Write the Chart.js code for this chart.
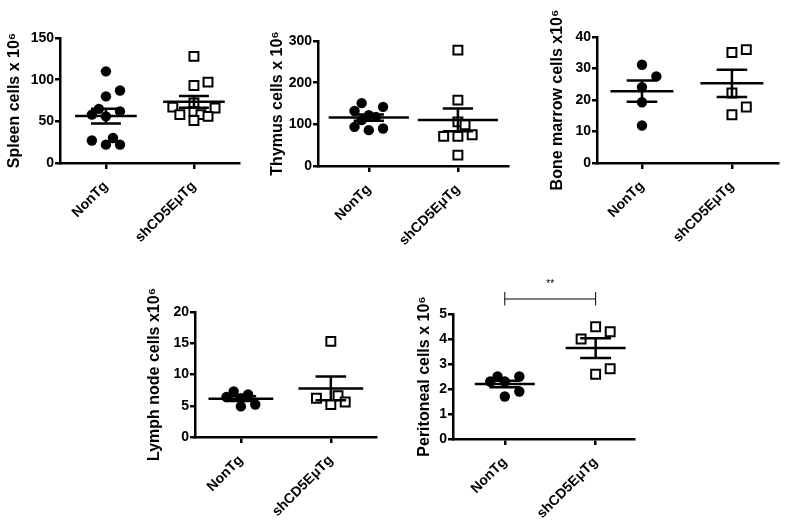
<!DOCTYPE html>
<html>
<head>
<meta charset="utf-8">
<script src="https://cdn.jsdelivr.net/npm/chart.js@4.4.1/dist/chart.umd.min.js"></script>
<style>
  html, body { margin: 0; padding: 0; background: #fff; }
  body { width: 791px; height: 525px; position: relative; overflow: hidden; }
  .panel { position: absolute; }
</style>
</head>
<body>
<div class="panel" id="p0"><canvas id="c0"></canvas></div>
<div class="panel" id="p1"><canvas id="c1"></canvas></div>
<div class="panel" id="p2"><canvas id="c2"></canvas></div>
<div class="panel" id="p3"><canvas id="c3"></canvas></div>
<div class="panel" id="p4"><canvas id="c4"></canvas></div>
<script>
// groups on the x axis
const groups = ['NonTg', 'shCD5E\u03bcTg'];

// y axis titles
const titles = ['Spleen cells x 10\u2076', 'Thymus cells x 10\u2076', 'Bone marrow cells x10\u2076',
  'Lymph node cells x10\u2076', 'Peritoneal cells x 10\u2076'];

// y axis max / tick step
const yMax = [150, 300, 40, 20, 5];
const yStep = [50, 100, 10, 5, 1];

// values (cells x 10^6)
const spleenNonTg = [110, 87, 80, 65, 62, 58, 56, 30, 27, 22, 22];
const spleenTg = [128, 97, 93, 72, 67, 66, 62, 58, 58, 56, 51];
const thymusNonTg = [151, 142, 132, 122, 118, 110, 94, 90, 86];
const thymusTg = [278, 158, 106, 99, 75, 71, 71, 26];
const boneNonTg = [31.2, 27.5, 24.1, 19.3, 11.9];
const boneTg = [36, 35.1, 22.2, 17.8, 15.3];
const lymphNonTg = [7.3, 6.8, 6.4, 6.2, 5.2, 4.9];
const lymphTg = [15.3, 6.6, 6.2, 5.6, 5.2];
const peritNonTg = [2.5, 2.5, 2.3, 2.3, 1.9, 1.7];
const peritTg = [4.49, 4.29, 4.0, 2.81, 2.59];

// scatter column of each point (jitter, in symbol widths)
const spleenNonTgCol = [0, 2, 0, -1, 2, -2, 0, 1, -2, 0, 2];
const spleenTgCol = [0, 2, 0, 0, -3, 3, 0, -2, 1, 2, 0];
const thymusNonTgCol = [-1, 2, -2, 0, 1, -1, -2, 2, 0];
const thymusTgCol = [0, 0, 0, 1, 2, -2, 0, 0];
const boneNonTgCol = [0, 2, 0, 0, 0];
const boneTgCol = [2, 0, 0, 2, 0];
const lymphNonTgCol = [-1, 1, -2, 0, 2, 0];
const lymphTgCol = [0, 1, -2, 2, 0];
const peritNonTgCol = [-1, 2, -2, 0, 2, 0];
const peritTgCol = [0, 2, -2, 2, 0];

const panelData = [
  [spleenNonTg, spleenTg, spleenNonTgCol, spleenTgCol],
  [thymusNonTg, thymusTg, thymusNonTgCol, thymusTgCol],
  [boneNonTg, boneTg, boneNonTgCol, boneTgCol],
  [lymphNonTg, lymphTg, lymphNonTgCol, lymphTgCol],
  [peritNonTg, peritTg, peritNonTgCol, peritTgCol]
];

// layout: axis x, plot top, plot bottom, plot right, y-axis box width, x range
const boxes = [
  { ax: 60, top: 38, bottom: 163, right: 248, yw: 57, xmin: 0.478, xmax: 2.52, half: 0.35 },
  { ax: 318, top: 41, bottom: 166, right: 517, yw: 52, xmin: 0.43, xmax: 2.57, half: 0.45 },
  { ax: 597, top: 37, bottom: 163, right: 787, yw: 51, xmin: 0.5, xmax: 2.52, half: 0.35 },
  { ax: 195, top: 312, bottom: 437, right: 385, yw: 52, xmin: 0.49, xmax: 2.51, half: 0.36 },
  { ax: 453, top: 314, bottom: 439, right: 643, yw: 40, xmin: 0.43, xmax: 2.43, half: 0.33 }
];

const FONT = '"Liberation Sans", Arial, sans-serif';
const COL_W = 0.08;
const PAD_TOP = 36;

function mean(a) { return a.reduce((s, v) => s + v, 0) / a.length; }
function sem(a) {
  const m = mean(a);
  const sd = Math.sqrt(a.reduce((s, v) => s + (v - m) * (v - m), 0) / (a.length - 1));
  return sd / Math.sqrt(a.length);
}

function seg(pts, w, clip) {
  return {
    type: 'line', data: pts.map(p => ({ x: p[0], y: p[1] })),
    borderColor: '#000', borderWidth: w || 2.5, pointRadius: 0, showLine: true,
    fill: false, clip: clip === false ? false : undefined
  };
}

function statSets(cx, vals, half) {
  const m = mean(vals), s = sem(vals), w = 0.17;
  return [
    seg([[cx - half, m], [cx + half, m]]),
    seg([[cx - w, m + s], [cx + w, m + s]]),
    seg([[cx - w, m - s], [cx + w, m - s]]),
    seg([[cx, m - s], [cx, m + s]])
  ];
}

// ** label over the bracket of the last panel
const starsPlugin = {
  id: 'stars',
  afterDatasetsDraw(chart) {
    if (chart.canvas.id !== 'c4') return;
    const { ctx, scales } = chart;
    ctx.save();
    ctx.fillStyle = '#000';
    ctx.font = '10px ' + FONT;
    ctx.textAlign = 'center';
    ctx.textBaseline = 'middle';
    ctx.fillText('**', scales.x.getPixelForValue(1.5), scales.y.getPixelForValue(6.2));
    ctx.restore();
  }
};

boxes.forEach((b, i) => {
  const div = document.getElementById('p' + i);
  const left = b.ax - b.yw, top = b.top - PAD_TOP;
  div.style.left = left + 'px';
  div.style.top = top + 'px';
  div.style.width = (b.right - left) + 'px';
  div.style.height = (b.bottom - b.top + PAD_TOP + 90) + 'px';

  const [a, c, ca, cc] = panelData[i];
  const datasets = [
    ...statSets(1, a, b.half),
    ...statSets(2, c, b.half),
    {
      type: 'scatter', data: a.map((v, k) => ({ x: 1 + ca[k] * COL_W, y: v })),
      pointStyle: 'circle', pointRadius: 5.2, backgroundColor: '#000', borderColor: '#000',
      borderWidth: 0, clip: false
    },
    {
      type: 'scatter', data: c.map((v, k) => ({ x: 2 + cc[k] * COL_W, y: v })),
      pointStyle: 'rect', pointRadius: 6.3, backgroundColor: '#fff', borderColor: '#000',
      borderWidth: 2, clip: false
    }
  ];
  if (i === 4) {
    datasets.unshift(
      seg([[1, 5.6], [2, 5.6]], 1, false),
      seg([[1, 5.34], [1, 5.88]], 1, false),
      seg([[2, 5.34], [2, 5.88]], 1, false)
    );
  }

  new Chart(document.getElementById('c' + i), {
    type: 'scatter',
    data: { datasets },
    plugins: [starsPlugin],
    options: {
      responsive: true,
      maintainAspectRatio: false,
      animation: false,
      layout: { padding: { top: PAD_TOP, left: 0, right: 0, bottom: 0 } },
      plugins: { legend: { display: false }, tooltip: { enabled: false } },
      scales: {
        x: {
          type: 'linear', min: b.xmin, max: b.xmax,
          afterBuildTicks: s => { s.ticks = [{ value: 1 }, { value: 2 }]; },
          afterFit: s => { s.height = 90; s.paddingLeft = 0; s.paddingRight = 0; },
          ticks: {
            callback: v => groups[v - 1], color: '#000', autoSkip: false,
            maxRotation: 45, minRotation: 45, padding: 9,
            font: { family: FONT, size: 14, weight: 'bold' }
          },
          grid: { drawOnChartArea: false, drawTicks: true, tickLength: 6, tickColor: '#000', lineWidth: 2.5 },
          border: { color: '#000', width: 2.5 }
        },
        y: {
          min: 0, max: yMax[i],
          afterFit: s => { s.width = b.yw; s.paddingTop = 0; s.paddingBottom = 0; },
          ticks: {
            stepSize: yStep[i], color: '#000', padding: 1,
            font: { family: FONT, size: 14, weight: 'bold' }
          },
          grid: { drawOnChartArea: false, drawTicks: true, tickLength: 5, tickColor: '#000', lineWidth: 2.5 },
          border: { color: '#000', width: 2.5 },
          title: {
            display: true, text: titles[i], color: '#000', padding: { top: 2, bottom: 2 },
            font: { family: FONT, size: 16, weight: 'bold' }
          }
        }
      }
    }
  });
});
</script>
</body>
</html>
